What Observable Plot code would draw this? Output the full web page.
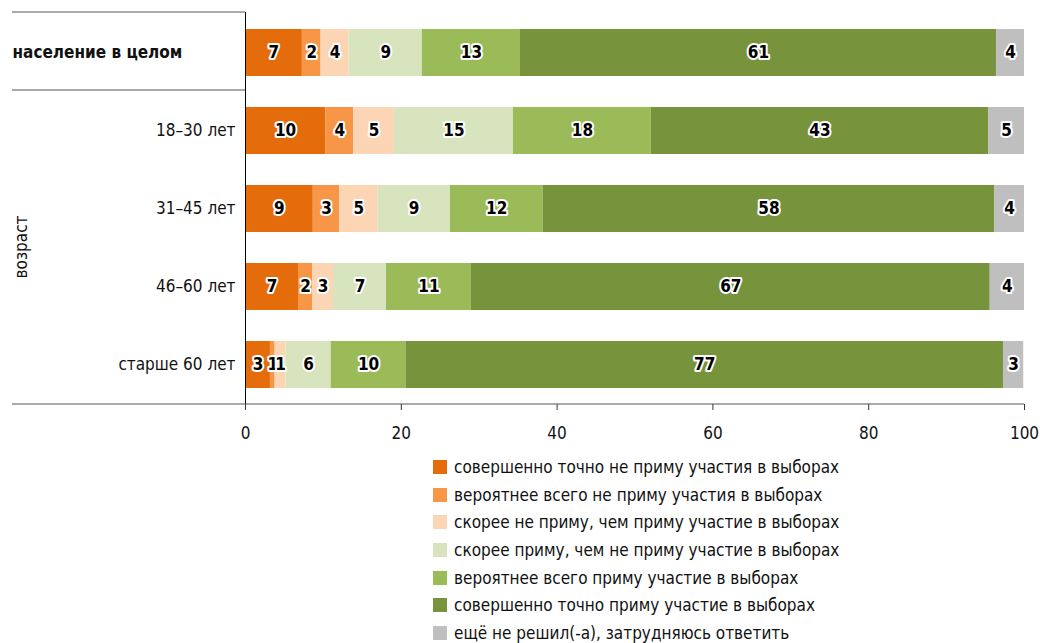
<!DOCTYPE html>
<html>
<head>
<meta charset="utf-8">
<script src="https://cdn.jsdelivr.net/npm/d3@7"></script>
<script src="https://cdn.jsdelivr.net/npm/@observablehq/plot@0.6"></script>
<style>
  body { margin: 0; background: #fff; }
  #chart { width: 1041px; }
  .legend { margin-left: 433px; padding-top: 1px; font-family: var(--f); font-size: 17px; color: #111; }
  .legend .item { display: flex; align-items: center; height: 27.7px; }
  .legend .sw { width: 14px; height: 14px; margin-right: 7px; flex: none; }
</style>
</head>
<body>
<div id="chart"></div>
<script>
const FONT = '"Liberation Sans Narrow", "DejaVu Sans Condensed", "Roboto Condensed", "Open Sans", sans-serif';
document.documentElement.style.setProperty("--f", FONT);

const groups = ["население в целом", "18–30 лет", "31–45 лет", "46–60 лет", "старше 60 лет"];
const categories = [
  "совершенно точно не приму участия в выборах",
  "вероятнее всего не приму участия в выборах",
  "скорее не приму, чем приму участие в выборах",
  "скорее приму, чем не приму участие в выборах",
  "вероятнее всего приму участие в выборах",
  "совершенно точно приму участие в выборах",
  "ещё не решил(-а), затрудняюсь ответить"
];
const colors = ["#E46C0A", "#F79646", "#FCD5B5", "#D7E4BD", "#9BBB59", "#77933C", "#BFBFBF"];

const definitelyNot = [7.3, 10.3, 8.7, 6.8, 3.2];
const probablyNot   = [2.4, 3.6, 3.4, 1.8, 0.6];
const ratherNot     = [3.6, 5.2, 4.9, 2.7, 1.4];
const ratherYes     = [9.4, 15.3, 9.3, 6.8, 5.8];
const probablyYes   = [12.6, 17.7, 11.9, 10.9, 9.6];
const definitelyYes = [61.1, 43.3, 58.0, 66.6, 76.7];
const undecided     = [3.6, 4.6, 3.8, 4.4, 2.6];
const xTicks = [0, 20, 40, 60, 80, 100];
const ageTitle = "возраст";

const series = [definitelyNot, probablyNot, ratherNot, ratherYes, probablyYes, definitelyYes, undecided];
const data = [];
groups.forEach((g, i) => series.forEach((s, j) => data.push({group: g, cat: categories[j], value: s[i]})));

const W = 1041, H = 452, ML = 245, MR = 17, MT = 12, MB = 48;

const plot = Plot.plot({
  width: W, height: H,
  marginLeft: ML, marginRight: MR, marginTop: MT, marginBottom: MB,
  style: {fontFamily: FONT, fontSize: "17px", color: "#111", background: "white", overflow: "visible"},
  x: {domain: [0, 100], label: null},
  y: {domain: groups, paddingInner: 0.4, paddingOuter: 0.2, axis: null},
  color: {domain: categories, range: colors},
  marks: [
    Plot.barX(data, {x: "value", y: "group", fill: "cat"}),
    Plot.text(data, Plot.stackX({
      x: "value", y: "group", z: "cat",
      text: d => String(Math.round(d.value)),
      fill: "#000", stroke: "white", strokeWidth: 4, paintOrder: "stroke",
      fontWeight: "bold", fontSize: 17
    })),
    Plot.axisX({ticks: xTicks, tickSize: 6, tickPadding: 16, fontSize: 17, label: null, stroke: "#333"}),
    Plot.ruleX([0], {stroke: "#000"}),
    Plot.text(groups.slice(1), {y: d => d, text: d => d, frameAnchor: "left", textAnchor: "end", dx: -10, fill: "#111"}),
    Plot.text(groups.slice(0, 1), {y: d => d, text: d => d, frameAnchor: "left", textAnchor: "start", dx: -233, fontWeight: "bold", fill: "#111"})
  ]
});

// Decorative table lines and the rotated group title, placed from the scales
const ys = plot.scale("y");
const step = ys.apply(groups[1]) - ys.apply(groups[0]);
const yTop = MT, ySep = MT + step, yBottom = H - MB;
const svg = d3.select(plot);
const lines = svg.append("g").attr("stroke", "#555").attr("stroke-width", 1.2);
lines.append("line").attr("x1", 12).attr("x2", ML).attr("y1", yTop).attr("y2", yTop);
lines.append("line").attr("x1", 12).attr("x2", ML).attr("y1", ySep).attr("y2", ySep);
lines.append("line").attr("x1", 12).attr("x2", W - MR).attr("y1", yBottom).attr("y2", yBottom);
svg.append("text")
  .attr("transform", `translate(22,${(ySep + yBottom) / 2}) rotate(-90)`)
  .attr("text-anchor", "middle").attr("dominant-baseline", "middle")
  .attr("font-size", 17).attr("fill", "#111").text(ageTitle);

document.getElementById("chart").appendChild(plot);

const legend = d3.select("#chart").append("div").attr("class", "legend");
categories.forEach((c, i) => {
  const it = legend.append("div").attr("class", "item");
  it.append("div").attr("class", "sw").style("background", colors[i]);
  it.append("span").text(c);
});
</script>
</body>
</html>
